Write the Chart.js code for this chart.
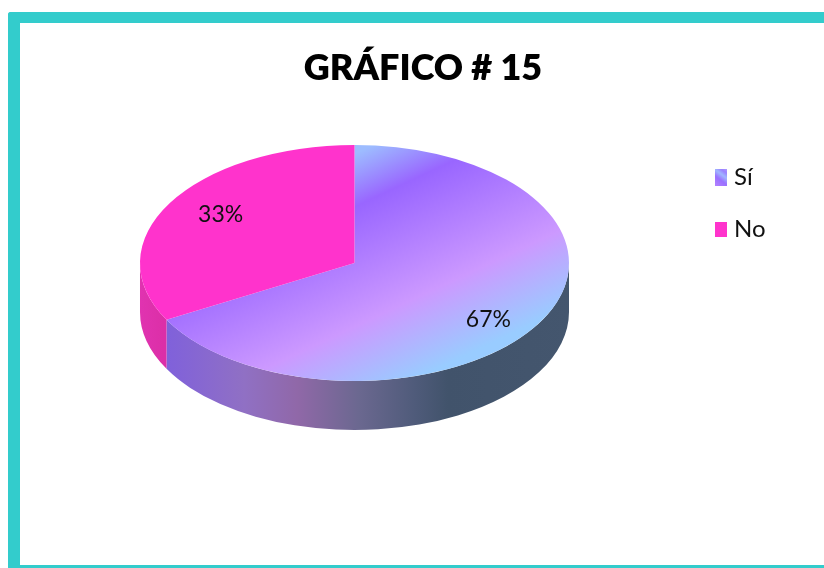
<!DOCTYPE html>
<html>
<head>
<meta charset="utf-8">
<style>
html,body{margin:0;padding:0;background:#fff;overflow:hidden}
#frame{position:absolute;left:8px;top:12px;width:830px;height:556px;box-sizing:border-box;background:#fff;
  border-left:12px solid #33cccc;border-top:11px solid #33cccc;border-bottom:3px solid #33cccc;border-top-left-radius:3px}
#wrap{position:absolute;left:0;top:0;width:824px;height:568px}
</style>
</head>
<body>
<div id="frame"></div>
<div id="wrap"><canvas id="c" width="824" height="568"></canvas></div>
<script src="https://cdn.jsdelivr.net/npm/chart.js@4"></script>
<script>
const chartTitle = 'GRÁFICO # 15';
const categories = ['Sí', 'No'];
const values = [67, 33];

const FONT = 'Lato, Carlito, sans-serif';
const TILT = 118 / 214.5;
const DEPTH = 49;
const canvas = document.getElementById('c');
const ctx = canvas.getContext('2d');

// top surface gradient, expressed in the untilted pie space
function addStops(g, stops){ stops.forEach(s => g.addColorStop(s[0], s[1])); return g; }
const topGradient = addStops(ctx.createLinearGradient(249, 139.5, 499, 433),
  [[0.03,'#9dbcff'],[0.22,'#9966ff'],[0.65,'#cc99ff'],[0.94,'#99ccff']]);
const noColor = '#ff33cc';

const sideSi = addStops(ctx.createLinearGradient(163, 0, 570, 0),
  [[0,'#7f60dc'],[0.2,'#9070c4'],[0.33,'#9068a8'],[0.48,'#6b6890'],[0.62,'#4f5b7a'],[0.7,'#41536b'],[1,'#44566e']]);
const sideNo = addStops(ctx.createLinearGradient(141, 0, 163, 0),
  [[0,'#e033b0'],[1,'#dc2fa8']]);

function swatch(fill, h){
  const s = document.createElement('canvas');
  s.width = 12; s.height = h;
  const x = s.getContext('2d');
  x.fillStyle = fill; x.fillRect(0, 0, 12, h);
  return s;
}
function swatchGradient(){
  const x = document.createElement('canvas').getContext('2d');
  return addStops(x.createLinearGradient(0, 16, 12, 0),
    [[0,'#b080ff'],[0.35,'#9a70ff'],[0.6,'#a0b8ff'],[0.8,'#9a80ff'],[1,'#b0a0ff']]);
}
const swatches = [swatch(swatchGradient(), 17), swatch(noColor, 15)];

const pie3d = {
  id: 'pie3d',
  afterLayout(chart){
    chart.chartArea.left = 140; chart.chartArea.right = 569;
    chart.chartArea.top = 48.5; chart.chartArea.bottom = 477.5;
    chart.chartArea.width = 429; chart.chartArea.height = 429;
    const l = chart.legend;
    l.left = 692; l.right = 824; l.top = 137; l.bottom = 300;
    const t = chart.titleBlock;
    const h = t.height;
    t.left = 0; t.right = 846; t.width = 846; t.top = 68 - h / 2; t.bottom = 68 + h / 2;
  },
  beforeDatasetDraw(chart){
    const c = chart.ctx;
    const arcs = chart.getDatasetMeta(0).data;
    const fills = [sideSi, sideNo];
    arcs.forEach((a, i) => {
      const s = Math.max(a.startAngle, 0), e = Math.min(a.endAngle, Math.PI);
      if (e <= s) return;
      const rx = a.outerRadius, ry = rx * TILT;
      c.save();
      c.beginPath();
      c.ellipse(a.x, a.y, rx, ry, 0, s, e);
      c.ellipse(a.x, a.y + DEPTH, rx, ry, 0, e, s, true);
      c.closePath();
      c.fillStyle = fills[i];
      c.fill();
      c.restore();
    });
    const p = arcs[0];
    c.save();
    c.translate(p.x, p.y);
    c.scale(1, TILT);
    c.translate(-p.x, -p.y);
  },
  afterDatasetDraw(chart){
    chart.ctx.restore();
  },
  afterDatasetsDraw(chart){
    const c = chart.ctx;
    const arcs = chart.getDatasetMeta(0).data;
    c.save();
    c.font = '23px ' + FONT;
    c.fillStyle = '#111';
    c.textAlign = 'center';
    c.textBaseline = 'middle';
    arcs.forEach((a, i) => {
      const m = (a.startAngle + a.endAngle) / 2;
      const x = a.x + Math.cos(m) * a.outerRadius * 0.725;
      const y = a.y + 4 + Math.sin(m) * a.outerRadius * 0.483;
      c.fillText(values[i] + '%', x, y);
    });
    c.restore();
  }
};

new Chart(ctx, {
  type: 'pie',
  data: {
    labels: categories,
    datasets: [{
      data: values,
      backgroundColor: [topGradient, noColor],
      borderWidth: 0,
      clip: false
    }]
  },
  plugins: [pie3d],
  options: {
    responsive: false,
    animation: false,
    events: [],
    plugins: {
      tooltip: { enabled: false },
      title: {
        display: true,
        text: chartTitle,
        color: '#000',
        padding: 0,
        font: { family: FONT, size: 36, weight: '800', lineHeight: 1.2 }
      },
      legend: {
        position: 'right',
        align: 'start',
        labels: {
          usePointStyle: true,
          pointStyleWidth: 2,
          padding: 28,
          color: '#111',
          font: { family: FONT, size: 24 },
          generateLabels(chart){
            return Chart.overrides.pie.plugins.legend.labels.generateLabels(chart)
              .map((it, i) => Object.assign(it, { pointStyle: swatches[i] }));
          }
        }
      }
    }
  }
});
</script>
</body>
</html>
